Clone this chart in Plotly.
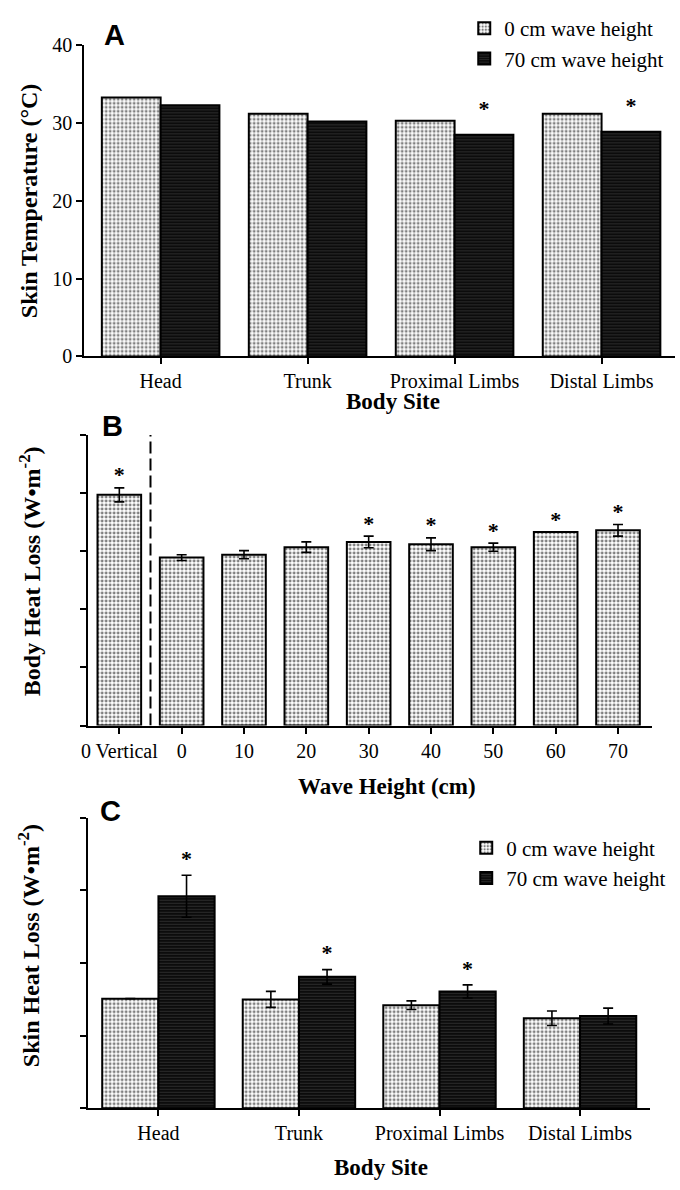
import plotly.graph_objects as go

W, H = 680, 1190

# ---------------- data ----------------
# Panel A: skin temperature (deg C)
sites = ["Head", "Trunk", "Proximal Limbs", "Distal Limbs"]
temp_0cm = [33.3, 31.2, 30.3, 31.2]
temp_70cm = [32.3, 30.2, 28.5, 28.9]
temp_sig_70 = [False, False, True, True]

# Panel B: body heat loss (arbitrary axis units, no tick labels in original)
wave_labels = ["0 Vertical", "0", "10", "20", "30", "40", "50", "60", "70"]
body_loss = [3.97, 2.89, 2.94, 3.07, 3.16, 3.12, 3.07, 3.33, 3.36]
body_err = [0.12, 0.05, 0.07, 0.09, 0.10, 0.11, 0.07, 0.0, 0.10]
body_sig = [True, False, False, False, True, True, True, True, True]

# Panel C: skin heat loss
skin_0cm = [1.51, 1.50, 1.42, 1.24]
skin_0cm_err = [0.0, 0.11, 0.06, 0.10]
skin_70cm = [2.92, 1.81, 1.61, 1.27]
skin_70cm_err = [0.29, 0.10, 0.09, 0.11]
skin_sig_70 = [True, True, True, False]

series_names = ["0 cm wave height", "70 cm wave height"]

# ---------------- styles ----------------
SERIF = "Liberation Serif"
SANS = "Liberation Sans"
dots = dict(shape=".", bgcolor="white", fgcolor="black", size=4, solidity=0.42)
dark = dict(shape="-", bgcolor="#0c0c0c", fgcolor="#555555", size=3, solidity=0.28)
outline = dict(color="black", width=2)


def px_x(p):
    return p / W


def px_y(p):
    return 1 - p / H


def errbar(arr):
    return dict(type="data", array=arr, color="black", thickness=1.6, width=5, visible=True)


fig = go.Figure()
xs4 = list(range(len(sites)))
xs9 = list(range(len(wave_labels)))
off = 0.2  # half of a bar's width in a 2-bar group with bargap 0.2
star_font = dict(size=22, family=SERIF, color="black")

# ----- Panel A -----
fig.add_trace(go.Bar(x=xs4, y=temp_0cm, name=series_names[0], xaxis="x", yaxis="y",
                     marker=dict(color="white", pattern=dots, line=outline),
                     legend="legend", legendgroup="a"))
fig.add_trace(go.Bar(x=xs4, y=temp_70cm, name=series_names[1], xaxis="x", yaxis="y",
                     marker=dict(color="#101010", pattern=dark, line=outline),
                     legend="legend", legendgroup="a"))
sx = [i + off for i, s in enumerate(temp_sig_70) if s]
sy = [temp_70cm[i] + 1.7 for i, s in enumerate(temp_sig_70) if s]
fig.add_trace(go.Scatter(x=sx, y=sy, mode="text", text=["<b>*</b>"] * len(sx),
                         textposition="top center", textfont=star_font,
                         xaxis="x", yaxis="y", showlegend=False, cliponaxis=False))

# ----- Panel B -----
fig.add_trace(go.Bar(x=xs9, y=body_loss, width=0.7, xaxis="x2", yaxis="y2", showlegend=False,
                     marker=dict(color="white", pattern=dots, line=outline),
                     error_y=errbar(body_err)))
bx = [i for i, s in enumerate(body_sig) if s]
by = [body_loss[i] + body_err[i] for i, s in enumerate(body_sig) if s]
fig.add_trace(go.Scatter(x=bx, y=by, mode="text", text=["<b>*</b>"] * len(bx),
                         textposition="top center", textfont=star_font,
                         xaxis="x2", yaxis="y2", showlegend=False, cliponaxis=False))

# ----- Panel C -----
fig.add_trace(go.Bar(x=xs4, y=skin_0cm, name=series_names[0], xaxis="x3", yaxis="y3",
                     marker=dict(color="white", pattern=dots, line=outline),
                     error_y=errbar(skin_0cm_err), legend="legend2", legendgroup="c"))
fig.add_trace(go.Bar(x=xs4, y=skin_70cm, name=series_names[1], xaxis="x3", yaxis="y3",
                     marker=dict(color="#101010", pattern=dark, line=outline),
                     error_y=errbar(skin_70cm_err), legend="legend2", legendgroup="c"))
cx = [i + off for i, s in enumerate(skin_sig_70) if s]
cy = [skin_70cm[i] + skin_70cm_err[i] + 0.05 for i, s in enumerate(skin_sig_70) if s]
fig.add_trace(go.Scatter(x=cx, y=cy, mode="text", text=["<b>*</b>"] * len(cx),
                         textposition="top center", textfont=star_font,
                         xaxis="x3", yaxis="y3", showlegend=False, cliponaxis=False))

# ---------------- axes ----------------
axis_common = dict(showline=True, linecolor="black", linewidth=2, ticks="outside",
                   tickcolor="black", tickwidth=2, ticklen=6, showgrid=False, zeroline=False,
                   tickfont=dict(family=SERIF, size=20, color="black"))

fig.update_layout(
    width=W, height=H, margin=dict(l=0, r=0, t=0, b=0),
    paper_bgcolor="white", plot_bgcolor="white",
    barmode="group", bargap=0.2, bargroupgap=0,
    font=dict(family=SERIF, color="black"),
    xaxis=dict(**axis_common, domain=[px_x(78), px_x(675)], range=[-0.52, 3.5],
               tickvals=xs4, ticktext=sites, anchor="y"),
    yaxis=dict(**axis_common, domain=[px_y(352), px_y(35)], range=[0, 40],
               tickvals=[0, 10, 20, 30, 40], anchor="x"),
    xaxis2=dict(**axis_common, domain=[px_x(82), px_x(652)], range=[-0.5, 8.55],
                tickvals=xs9, ticktext=wave_labels, anchor="y2"),
    yaxis2=dict(**axis_common, domain=[px_y(728), px_y(432)], range=[0, 5],
                tickvals=[0, 1, 2, 3, 4, 5], showticklabels=False, anchor="x2"),
    xaxis3=dict(**axis_common, domain=[px_x(82), px_x(650)], range=[-0.5, 3.5],
                tickvals=xs4, ticktext=sites, anchor="y3"),
    yaxis3=dict(**axis_common, domain=[px_y(1118), px_y(822)], range=[0, 4],
                tickvals=[0, 1, 2, 3, 4], showticklabels=False, anchor="x3"),
    legend=dict(x=px_x(462), y=px_y(-3), xanchor="left", yanchor="top",
                font=dict(family=SERIF, size=21, color="black"), bgcolor="rgba(0,0,0,0)",
                itemwidth=30, tracegroupgap=0),
    legend2=dict(x=px_x(464), y=px_y(832), xanchor="left", yanchor="top",
                 font=dict(family=SERIF, size=21, color="black"), bgcolor="rgba(0,0,0,0)",
                 itemwidth=30, tracegroupgap=0),
)

# dashed separator in panel B
fig.add_shape(type="line", xref="x2", yref="y2", x0=0.5, x1=0.5, y0=0, y1=5,
              line=dict(color="black", width=2, dash="12px,5px"))

# ---------------- text annotations ----------------
def ann(text, x, y, size, family=SERIF, angle=0, bold=True):
    fig.add_annotation(text=f"<b>{text}</b>" if bold else text, x=px_x(x), y=px_y(y),
                       xref="paper", yref="paper", showarrow=False, textangle=angle,
                       xanchor="center", yanchor="middle",
                       font=dict(family=family, size=size, color="black"))

ann("A", 109, 24, 29, SANS)
ann("B", 107, 423, 29, SANS)
ann("C", 105, 815, 29, SANS)

ann("Skin Temperature (°C)", 23, 193, 24, angle=-90)
ann("Body Heat Loss (W•m<sup>-2</sup>)", 24, 571, 24, angle=-90)
ann("Skin Heat Loss (W•m<sup>-2</sup>)", 23, 952, 24, angle=-90)

ann("Body Site", 390, 398, 23)
ann("Wave Height (cm)", 384, 790, 23)
ann("Body Site", 378, 1178, 23)

fig.write_html("out.html")
